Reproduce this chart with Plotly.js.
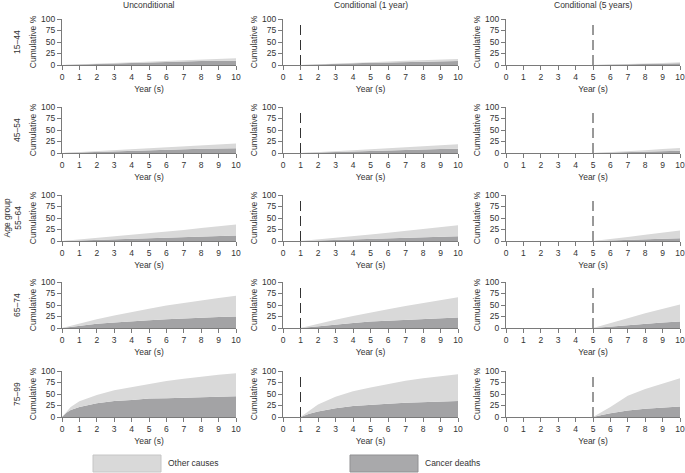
<!DOCTYPE html>
<html>
<head>
<meta charset="utf-8">
<script src="https://cdn.plot.ly/plotly-3.0.1.min.js"></script>
<style>html,body{margin:0;padding:0;background:#fff}#chart{width:685px;height:473px}</style>
</head>
<body>
<div id="chart"></div>
<script>
// ---------- data ----------
const ageGroups = ['15–44', '45–54', '55–64', '65–74', '75–99'];
const columnTitles = ['Unconditional', 'Conditional (1 year)', 'Conditional (5 years)'];
const conditionYears = [0, 1, 5];
const xTickVals = [0, 1, 2, 3, 4, 5, 6, 7, 8, 9, 10];
const yTickVals = [0, 25, 50, 75, 100];
const seriesNames = ['Other causes', 'Cancer deaths'];

const yearsUncond = [0, 0.25, 0.5, 1, 2, 3, 4, 5, 6, 7, 8, 9, 10];
const yearsCond1 = [1, 1.25, 1.5, 2, 3, 4, 5, 6, 7, 8, 9, 10];
const yearsCond5 = [5, 5.25, 5.5, 6, 7, 8, 9, 10];

// cumulative % cancer deaths (rows = age groups)
const cancerUncond = [
  [0, 0.3, 0.6, 1.2, 2.5, 3.8, 5, 6, 7, 7.8, 8.5, 9, 9.5],
  [0, 0.3, 0.7, 1.5, 3, 4.5, 5.5, 6.5, 7.5, 8.2, 9, 9.6, 10.2],
  [0, 0.3, 0.6, 1.2, 2.5, 3.8, 5, 6, 7, 8, 9, 10.5, 12],
  [0, 1.3, 2.6, 5, 9, 12, 15, 17, 19, 21, 22.5, 24, 25],
  [0, 9, 15, 22, 30, 35, 37, 40, 41, 42, 43, 44, 45]
];
// cumulative % all causes (cancer deaths + other causes)
const totalUncond = [
  [0, 0.4, 0.8, 1.5, 3, 4.5, 6, 7.5, 9, 10.5, 12, 13, 14.5],
  [0, 0.5, 1, 2, 4, 6, 8, 10, 12, 14, 16, 18, 20.5],
  [0, 0.8, 1.6, 3.2, 6.5, 10, 13.5, 17, 20.5, 24, 28, 32, 36],
  [0, 2.5, 5, 10, 19, 27, 35, 42, 49, 55, 60, 65, 70],
  [0, 12, 22, 34, 48, 58, 65, 72, 78, 83, 88, 92, 95]
];
const cancerCond1 = [
  [0, 0.2, 0.5, 1, 2.3, 3.5, 4.7, 5.7, 6.5, 7.3, 8, 8.5],
  [0, 0.3, 0.6, 1.2, 2.7, 4, 5, 6, 7, 7.8, 8.5, 9.2],
  [0, 0.3, 0.6, 1.2, 2.5, 3.8, 5, 6, 7, 8, 9, 10.5],
  [0, 1, 2, 4, 8, 11, 14, 16, 18, 20, 21.5, 23],
  [0, 4, 7, 12, 19, 24, 27, 29, 31, 32, 34, 35]
];
const totalCond1 = [
  [0, 0.3, 0.6, 1.3, 3, 4.5, 6, 7.5, 9, 10.5, 12, 13],
  [0, 0.4, 0.9, 1.8, 4, 6, 8, 10, 12, 14, 16.5, 19],
  [0, 0.8, 1.6, 3.2, 7, 10.5, 14, 18, 22, 26, 30, 34.5],
  [0, 2.3, 4.5, 9, 18, 26, 34, 41, 48, 54, 61, 67],
  [0, 7, 14, 27, 44, 56, 64, 72, 79, 84, 89, 93]
];
const cancerCond5 = [
  [0, 0.15, 0.3, 0.6, 1.4, 2.2, 3, 3.8],
  [0, 0.2, 0.4, 0.9, 2, 3, 4, 5],
  [0, 0.2, 0.5, 1, 2.3, 3.5, 4.7, 6],
  [0, 0.8, 1.6, 3.2, 7, 10, 12, 14],
  [0, 2.5, 4.5, 8, 14, 18, 21, 23]
];
const totalCond5 = [
  [0, 0.2, 0.4, 0.8, 2, 3.2, 4.5, 5.8],
  [0, 0.4, 0.8, 1.6, 3.8, 6, 8.5, 11],
  [0, 0.9, 1.8, 3.8, 8.5, 13.5, 18, 23],
  [0, 2.5, 5, 10, 21, 32, 42, 51],
  [0, 6, 11, 22, 46, 61, 73, 84]
];

// ---------- styling / layout ----------
const W = 685, H = 473;
const OTHER_COLOR = '#d9d9d9';
const CANCER_COLOR = '#a3a3a5';
const AXIS_COLOR = '#7a7a7a';
const TEXT_COLOR = '#333333';
const FONT = 'Liberation Sans, Arial, Helvetica, sans-serif';

const colPx = [[62, 236], [283, 458], [506, 680]];
const rowPx = [[19, 65], [107, 153], [195, 241], [282, 328], [371, 417]];
const px = x => x / W;
const py = y => 1 - y / H;

const columns = [
  {years: yearsUncond, cancer: cancerUncond, total: totalUncond},
  {years: yearsCond1, cancer: cancerCond1, total: totalCond1},
  {years: yearsCond5, cancer: cancerCond5, total: totalCond5}
];

const traces = [];
const layout = {
  width: W, height: H,
  margin: {l: 0, r: 0, t: 0, b: 0},
  paper_bgcolor: '#ffffff', plot_bgcolor: 'rgba(0,0,0,0)',
  showlegend: false,
  font: {family: FONT, size: 8, color: TEXT_COLOR},
  shapes: [], annotations: []
};

for (let r = 0; r < ageGroups.length; r++) {
  for (let c = 0; c < columns.length; c++) {
    const i = r * 3 + c + 1;
    const xa = 'x' + i, ya = 'y' + i;
    const col = columns[c];
    traces.push({
      x: col.years, y: col.cancer[r], xaxis: xa, yaxis: ya,
      name: seriesNames[1], type: 'scatter', mode: 'lines',
      line: {width: 0, color: CANCER_COLOR}, fill: 'tozeroy', fillcolor: CANCER_COLOR,
      hoverinfo: 'skip'
    });
    traces.push({
      x: col.years, y: col.total[r], xaxis: xa, yaxis: ya,
      name: seriesNames[0], type: 'scatter', mode: 'lines',
      line: {width: 0, color: OTHER_COLOR}, fill: 'tonexty', fillcolor: OTHER_COLOR,
      hoverinfo: 'skip'
    });
    const xKey = 'xaxis' + (i === 1 ? '' : i);
    const yKey = 'yaxis' + (i === 1 ? '' : i);
    layout[xKey] = {
      domain: [px(colPx[c][0]), px(colPx[c][1])], anchor: ya,
      range: [0, 10], tickmode: 'array', tickvals: xTickVals,
      ticks: 'outside', ticklen: 4, tickwidth: 1, tickcolor: AXIS_COLOR,
      showline: true, linecolor: AXIS_COLOR, linewidth: 1,
      showgrid: false, zeroline: false,
      tickfont: {size: 8.5, color: TEXT_COLOR, family: FONT},
      title: {text: 'Year (s)', font: {size: 8.5, color: TEXT_COLOR, family: FONT}, standoff: 4}
    };
    layout[yKey] = {
      domain: [py(rowPx[r][1]), py(rowPx[r][0])], anchor: xa,
      range: [0, 100], tickmode: 'array', tickvals: yTickVals,
      ticks: 'outside', ticklen: 4, tickwidth: 1, tickcolor: AXIS_COLOR,
      showline: true, linecolor: AXIS_COLOR, linewidth: 1,
      showgrid: false, zeroline: false,
      tickfont: {size: 8.5, color: TEXT_COLOR, family: FONT},
      title: {text: 'Cumulative %', font: {size: 8.5, color: TEXT_COLOR, family: FONT}, standoff: 3}
    };
    if (conditionYears[c] > 0) {
      layout.shapes.push({
        type: 'line', xref: xa, yref: ya,
        x0: conditionYears[c], x1: conditionYears[c], y0: 0, y1: 92,
        line: {color: '#333333', width: 1, dash: '10px,5px'}
      });
    }
  }
  // row labels
  const isMid = r === 2;
  layout.annotations.push({
    text: isMid ? 'Age group<br>' + ageGroups[r] : ageGroups[r],
    xref: 'paper', yref: 'paper',
    x: px(24), y: py((rowPx[r][0] + rowPx[r][1]) / 2),
    xanchor: 'right', yanchor: 'middle', textangle: -90, showarrow: false,
    font: {size: 8.5, color: TEXT_COLOR, family: FONT}
  });
}
// column titles
for (let c = 0; c < columnTitles.length; c++) {
  layout.annotations.push({
    text: columnTitles[c], xref: 'paper', yref: 'paper',
    x: px((colPx[c][0] + colPx[c][1]) / 2), y: py(5),
    xanchor: 'center', yanchor: 'middle', showarrow: false,
    font: {size: 8.5, color: TEXT_COLOR, family: FONT}
  });
}
// legend (boxes + labels)
const legendBoxes = [
  {x0: 93, x1: 161, fill: OTHER_COLOR, line: '#c6c6c6', label: seriesNames[0]},
  {x0: 350, x1: 418, fill: '#a9a9ab', line: '#919193', label: seriesNames[1]}
];
legendBoxes.forEach(b => {
  layout.shapes.push({
    type: 'rect', xref: 'paper', yref: 'paper',
    x0: px(b.x0), x1: px(b.x1), y0: py(472), y1: py(455),
    fillcolor: b.fill, line: {color: b.line, width: 1}
  });
  layout.annotations.push({
    text: b.label, xref: 'paper', yref: 'paper',
    x: px(b.x1 + 5), y: py(463), xanchor: 'left', yanchor: 'middle', showarrow: false,
    font: {size: 8.5, color: TEXT_COLOR, family: FONT}
  });
});

Plotly.newPlot('chart', traces, layout, {displayModeBar: false, staticPlot: true});
</script>
</body>
</html>
